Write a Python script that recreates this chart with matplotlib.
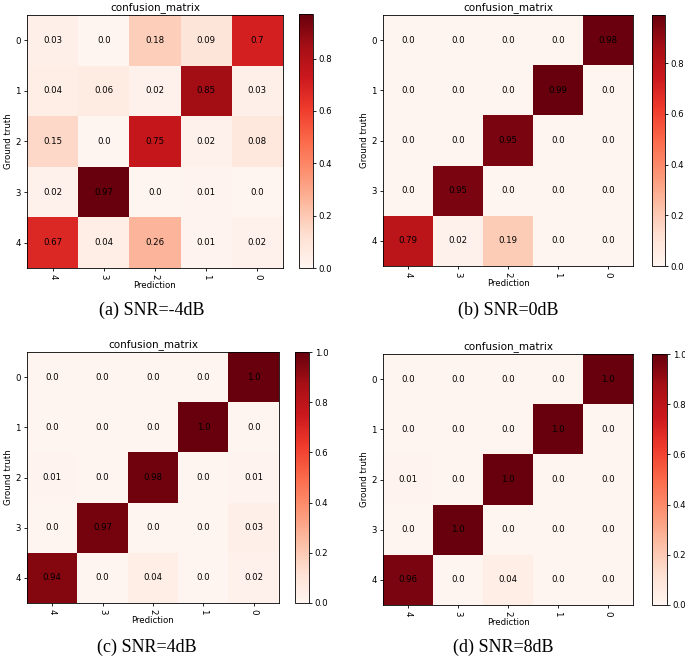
import matplotlib
matplotlib.use('Agg')
import matplotlib.pyplot as plt
import numpy as np

# classes: rows are ground truth 0..4, columns are predictions shown as 4,3,2,1,0
row_labels = ['0', '1', '2', '3', '4']
col_labels = ['4', '3', '2', '1', '0']

cm_snr_m4 = [[0.03, 0.0, 0.18, 0.09, 0.7],
             [0.04, 0.06, 0.02, 0.85, 0.03],
             [0.15, 0.0, 0.75, 0.02, 0.08],
             [0.02, 0.97, 0.0, 0.01, 0.0],
             [0.67, 0.04, 0.26, 0.01, 0.02]]

cm_snr_0 = [[0.0, 0.0, 0.0, 0.0, 0.98],
            [0.0, 0.0, 0.0, 0.99, 0.0],
            [0.0, 0.0, 0.95, 0.0, 0.0],
            [0.0, 0.95, 0.0, 0.0, 0.0],
            [0.79, 0.02, 0.19, 0.0, 0.0]]

cm_snr_4 = [[0.0, 0.0, 0.0, 0.0, 1.0],
            [0.0, 0.0, 0.0, 1.0, 0.0],
            [0.01, 0.0, 0.98, 0.0, 0.01],
            [0.0, 0.97, 0.0, 0.0, 0.03],
            [0.94, 0.0, 0.04, 0.0, 0.02]]

cm_snr_8 = [[0.0, 0.0, 0.0, 0.0, 1.0],
            [0.0, 0.0, 0.0, 1.0, 0.0],
            [0.01, 0.0, 1.0, 0.0, 0.0],
            [0.0, 1.0, 0.0, 0.0, 0.0],
            [0.96, 0.0, 0.04, 0.0, 0.0]]

captions = ['(a) SNR=-4dB', '(b) SNR=0dB', '(c) SNR=4dB', '(d) SNR=8dB']

W, H = 685, 657
plt.rcParams['font.size'] = 6.2
plt.rcParams['axes.linewidth'] = 0.6
plt.rcParams['xtick.major.size'] = 2.2
plt.rcParams['ytick.major.size'] = 2.2
plt.rcParams['xtick.major.width'] = 0.6
plt.rcParams['ytick.major.width'] = 0.6
plt.rcParams['xtick.major.pad'] = 2.2
plt.rcParams['ytick.major.pad'] = 2.2

fig = plt.figure(figsize=(W / 100, H / 100), dpi=100)


def box(x0, y0, x1, y1):
    # pixel box (top-left origin) -> figure fraction
    return [x0 / W, 1 - y1 / H, (x1 - x0) / W, (y1 - y0) / H]


panels = [
    (cm_snr_m4, box(27, 15, 283, 268), box(299, 14, 313, 268), (152, 310)),
    (cm_snr_0, box(383, 15, 633, 266), box(652, 15, 665, 266), (508, 310)),
    (cm_snr_4, box(27, 352, 279, 603), box(295, 352, 309, 603), (147, 647)),
    (cm_snr_8, box(383, 354, 633, 605), box(652, 354, 667, 605), (503, 647)),
]

for (cm, ax_box, cb_box, cap_xy), caption in zip(panels, captions):
    data = np.array(cm)
    ax = fig.add_axes(ax_box)
    im = ax.imshow(data, cmap='Reds', aspect='auto', interpolation='nearest')
    for i in range(data.shape[0]):
        for j in range(data.shape[1]):
            ax.text(j, i, str(data[i, j]), ha='center', va='center', color='black')
    ax.set_xticks(range(len(col_labels)))
    ax.set_xticklabels(col_labels, rotation=-90)
    ax.set_yticks(range(len(row_labels)))
    ax.set_yticklabels(row_labels)
    ax.set_title('confusion_matrix', fontsize=7.5, pad=3.5)
    ax.set_xlabel('Prediction', labelpad=1)
    ax.set_ylabel('Ground truth', labelpad=2)

    cax = fig.add_axes(cb_box)
    cb = fig.colorbar(im, cax=cax)
    cb.outline.set_linewidth(0.6)
    cax.tick_params(width=0.6, length=2.2, pad=2)

    fig.text(cap_xy[0] / W, 1 - cap_xy[1] / H, caption, ha='center', va='center',
             fontsize=13, family='Liberation Serif')

fig.savefig('out.png', dpi=100)
